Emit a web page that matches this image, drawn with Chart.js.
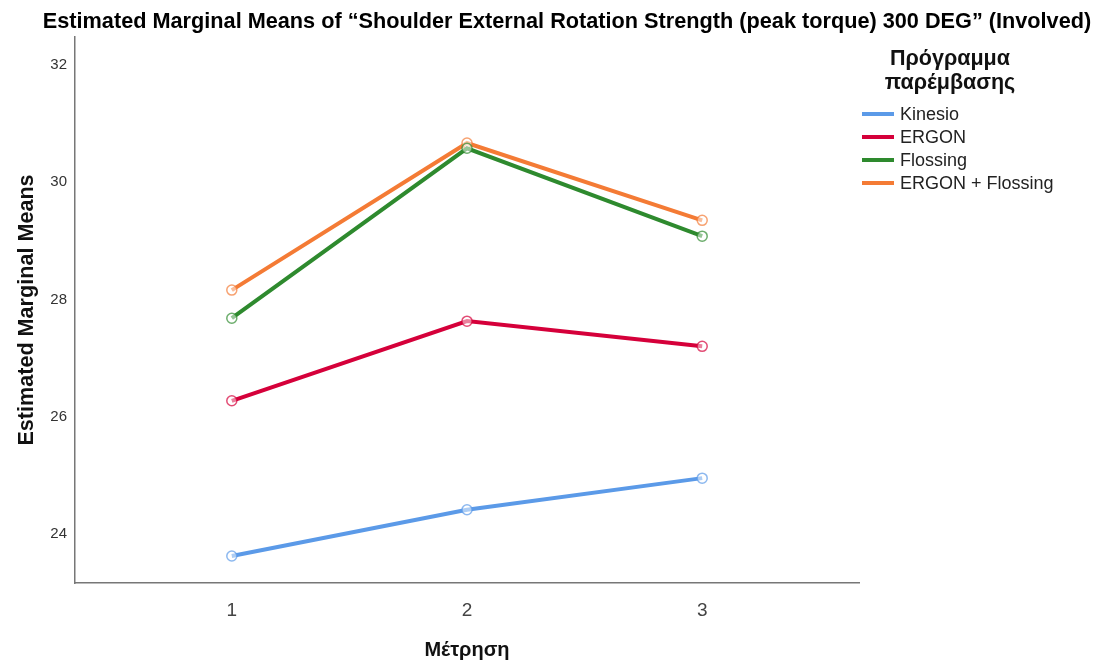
<!DOCTYPE html>
<html><head><meta charset="utf-8">
<script src="https://cdn.jsdelivr.net/npm/chart.js@4.4.1/dist/chart.umd.min.js"></script>
<style>html,body{margin:0;padding:0;background:#fff}</style>
</head><body>
<canvas id="c" width="1099" height="662"></canvas>
<script>
const chartTitle = 'Estimated Marginal Means of \u201cShoulder External Rotation Strength (peak torque) 300 DEG\u201d (Involved)';
const legendTitle = ['Πρόγραμμα', 'παρέμβασης'];
const yAxisTitle = 'Estimated Marginal Means';
const xAxisTitle = 'Μέτρηση';
const categories = ['1', '2', '3'];
const seriesNames = ['Kinesio', 'ERGON', 'Flossing', 'ERGON + Flossing'];
const kinesio = [23.62, 24.41, 24.95];
const ergon = [26.27, 27.63, 27.20];
const flossing = [27.68, 30.58, 29.08];
const ergonFlossing = [28.16, 30.67, 29.35];
const yTicks = [24, 26, 28, 30, 32];
const colors = ['#5b9ae8', '#d5003a', '#2e8a2e', '#f47b35'];

const FONT = "'Liberation Sans', Arial, sans-serif";
const allSeries = [kinesio, ergon, flossing, ergonFlossing];

function hexA(hex, a) {
  const n = parseInt(hex.slice(1), 16);
  return `rgba(${(n >> 16) & 255},${(n >> 8) & 255},${n & 255},${a})`;
}

const datasets = allSeries.map((vals, i) => ({
  label: seriesNames[i],
  data: vals.map((v, j) => ({ x: j + 1, y: v })),
  borderColor: colors[i],
  borderWidth: 4,
  pointRadius: 5,
  pointBorderWidth: 1.5,
  pointBorderColor: hexA(colors[i], 0.7),
  pointBackgroundColor: 'rgba(255,255,255,0.5)',
  tension: 0,
  fill: false
}));

const titlePlugin = {
  id: 'titleAndLegend',
  afterDraw(chart) {
    const ctx = chart.ctx;
    ctx.save();
    ctx.fillStyle = '#000';
    ctx.textAlign = 'center';
    ctx.textBaseline = 'middle';
    ctx.font = `bold 21.7px ${FONT}`;
    ctx.fillText(chartTitle, 567, 22);
    // legend title
    ctx.font = `bold 21.5px ${FONT}`;
    ctx.fillStyle = '#111';
    legendTitle.forEach((t, i) => ctx.fillText(t, 950, 59 + i * 24));
    // legend items
    ctx.textAlign = 'left';
    ctx.font = `18px ${FONT}`;
    chart.data.datasets.forEach((ds, i) => {
      const y = 114 + i * 23;
      ctx.strokeStyle = ds.borderColor;
      ctx.lineWidth = 4;
      ctx.beginPath();
      ctx.moveTo(862, y);
      ctx.lineTo(894, y);
      ctx.stroke();
      ctx.fillStyle = '#222';
      ctx.fillText(ds.label, 900, y + 1);
    });
    ctx.restore();
  }
};

new Chart(document.getElementById('c'), {
  type: 'line',
  data: { datasets },
  options: {
    responsive: false,
    animation: false,
    devicePixelRatio: 1,
    layout: { padding: { left: 0, right: 240, top: 37, bottom: 0 } },
    plugins: { legend: { display: false }, title: { display: false }, tooltip: { enabled: false } },
    scales: {
      x: {
        type: 'linear',
        min: 1 / 3,
        max: 11 / 3,
        afterBuildTicks(scale) { scale.ticks = categories.map((c, i) => ({ value: i + 1 })); },
        afterFit(scale) { scale.height = 79; },
        ticks: {
          callback: (v) => categories[Math.round(v) - 1],
          font: { family: FONT, size: 19 },
          color: '#444',
          padding: 16
        },
        grid: { display: false, drawTicks: false },
        border: { display: true, color: '#777', width: 1.5 },
        title: {
          display: true,
          text: xAxisTitle,
          font: { family: FONT, size: 20, weight: 'bold' },
          color: '#111',
          padding: { top: 14, bottom: 0 }
        }
      },
      y: {
        type: 'linear',
        min: 23.16,
        max: 32.48,
        afterBuildTicks(scale) { scale.ticks = yTicks.map(v => ({ value: v })); },
        afterFit(scale) { scale.width = 75; },
        ticks: {
          font: { family: FONT, size: 15 },
          color: '#333',
          padding: 8
        },
        grid: { display: false, drawTicks: false },
        border: { display: true, color: '#777', width: 1.5 },
        title: {
          display: true,
          text: yAxisTitle,
          font: { family: FONT, size: 21.6, weight: 'bold' },
          color: '#111',
          padding: { top: 14, bottom: 0 }
        }
      }
    }
  },
  plugins: [titlePlugin]
});
</script>
</body></html>
